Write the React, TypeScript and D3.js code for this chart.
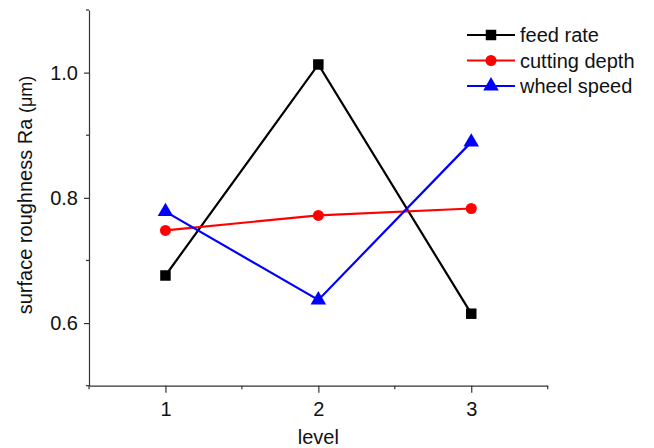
import React, { useEffect, useRef } from "react";
import * as d3 from "d3";

const levels = [1, 2, 3];
const feedRate = [0.676, 1.013, 0.615];
const cuttingDepth = [0.748, 0.772, 0.783];
const wheelSpeed = [0.778, 0.637, 0.889];
const yTicks = [0.6, 0.8, 1.0];
const yMinor = [0.5, 0.7, 0.9, 1.1];
const xMinor = [0.5, 1.5, 2.5, 3.5];

const series = [
  { name: "feed rate", values: feedRate, color: "#000000", symbol: d3.symbolSquare, size: 110 },
  { name: "cutting depth", values: cuttingDepth, color: "#ff0000", symbol: d3.symbolCircle, size: 95 },
  { name: "wheel speed", values: wheelSpeed, color: "#0000ff", symbol: d3.symbolTriangle, size: 105 },
];

export default function App() {
  const ref = useRef<SVGSVGElement>(null);

  useEffect(() => {
    const width = 654;
    const height = 448;
    const left = 89, right = 547.7, top = 10, bottom = 385.7;
    const font = "'Liberation Sans', Arial, sans-serif";
    const fs = 20;

    const svg = d3.select(ref.current);
    svg.selectAll("*").remove();
    svg.append("rect").attr("width", width).attr("height", height).attr("fill", "#fff");

    const x = d3.scaleLinear().domain([0.5, 3.5]).range([left, right]);
    const y = d3.scaleLinear().domain([0.5, 1.1]).range([bottom, top]);

    // y axis
    const yg = svg.append("g").attr("transform", `translate(${left},0)`);
    yg.call(d3.axisLeft(y).tickValues(yTicks).tickFormat(d3.format(".1f")).tickSize(5).tickSizeOuter(0))
      .call((g) => g.attr("font-size", fs).attr("font-family", font))
      .call((g) => g.selectAll("text").attr("fill", "#111").attr("x", -11))
      .call((g) => g.selectAll("path, line").attr("stroke", "#333").attr("stroke-width", 1.2));
    yg.selectAll(".minor")
      .data(yMinor)
      .enter()
      .append("line")
      .attr("x1", -3)
      .attr("x2", 0)
      .attr("y1", (d) => y(d))
      .attr("y2", (d) => y(d))
      .attr("stroke", "#333")
      .attr("stroke-width", 1.2);

    // x axis
    const xg = svg.append("g").attr("transform", `translate(0,${bottom})`);
    xg.call(d3.axisBottom(x).tickValues(levels).tickFormat(d3.format("d")).tickSize(7).tickSizeOuter(0))
      .call((g) => g.attr("font-size", fs).attr("font-family", font))
      .call((g) => g.selectAll("text").attr("fill", "#111").attr("y", 16))
      .call((g) => g.selectAll("path, line").attr("stroke", "#333").attr("stroke-width", 1.2));
    xg.selectAll(".minor")
      .data(xMinor)
      .enter()
      .append("line")
      .attr("x1", (d) => x(d))
      .attr("x2", (d) => x(d))
      .attr("y1", 0)
      .attr("y2", 3.5)
      .attr("stroke", "#333")
      .attr("stroke-width", 1.2);

    // axis titles
    svg.append("text")
      .attr("x", x(2))
      .attr("y", 444)
      .attr("text-anchor", "middle")
      .attr("font-size", fs)
      .attr("font-family", font)
      .attr("fill", "#111")
      .text("level");

    const yl = svg.append("text")
      .attr("transform", `translate(32,195) rotate(-90)`)
      .attr("text-anchor", "middle")
      .attr("font-size", fs)
      .attr("font-family", font)
      .attr("fill", "#111");
    yl.append("tspan").text("surface roughness Ra ");
    yl.append("tspan").attr("font-size", 18).text("(μm)");

    // series
    const line = d3.line<number>().x((d, i) => x(levels[i])).y((d) => y(d));
    series.forEach((s) => {
      svg.append("path")
        .attr("d", line(s.values))
        .attr("fill", "none")
        .attr("stroke", s.color)
        .attr("stroke-width", 2.2);
      svg.selectAll(null)
        .data(s.values)
        .enter()
        .append("path")
        .attr("d", d3.symbol().type(s.symbol).size(s.size)())
        .attr("transform", (d, i) => `translate(${x(levels[i])},${y(d)})`)
        .attr("fill", s.color);
    });

    // legend
    const lg = svg.append("g").attr("transform", "translate(467,35)");
    series.forEach((s, i) => {
      const row = lg.append("g").attr("transform", `translate(0,${i * 25.5})`);
      row.append("line").attr("x1", 0).attr("x2", 48).attr("stroke", s.color).attr("stroke-width", 2.2);
      row.append("path")
        .attr("d", d3.symbol().type(s.symbol).size(s.size)())
        .attr("transform", "translate(24,0)")
        .attr("fill", s.color);
      row.append("text")
        .attr("x", 53)
        .attr("dy", "0.35em")
        .attr("font-size", fs)
        .attr("font-family", font)
        .attr("fill", "#111")
        .text(s.name);
    });
  }, []);

  return (
    <svg
      ref={ref}
      width={654}
      height={448}
      style={{ position: "absolute", left: 0, top: 0 }}
    />
  );
}
